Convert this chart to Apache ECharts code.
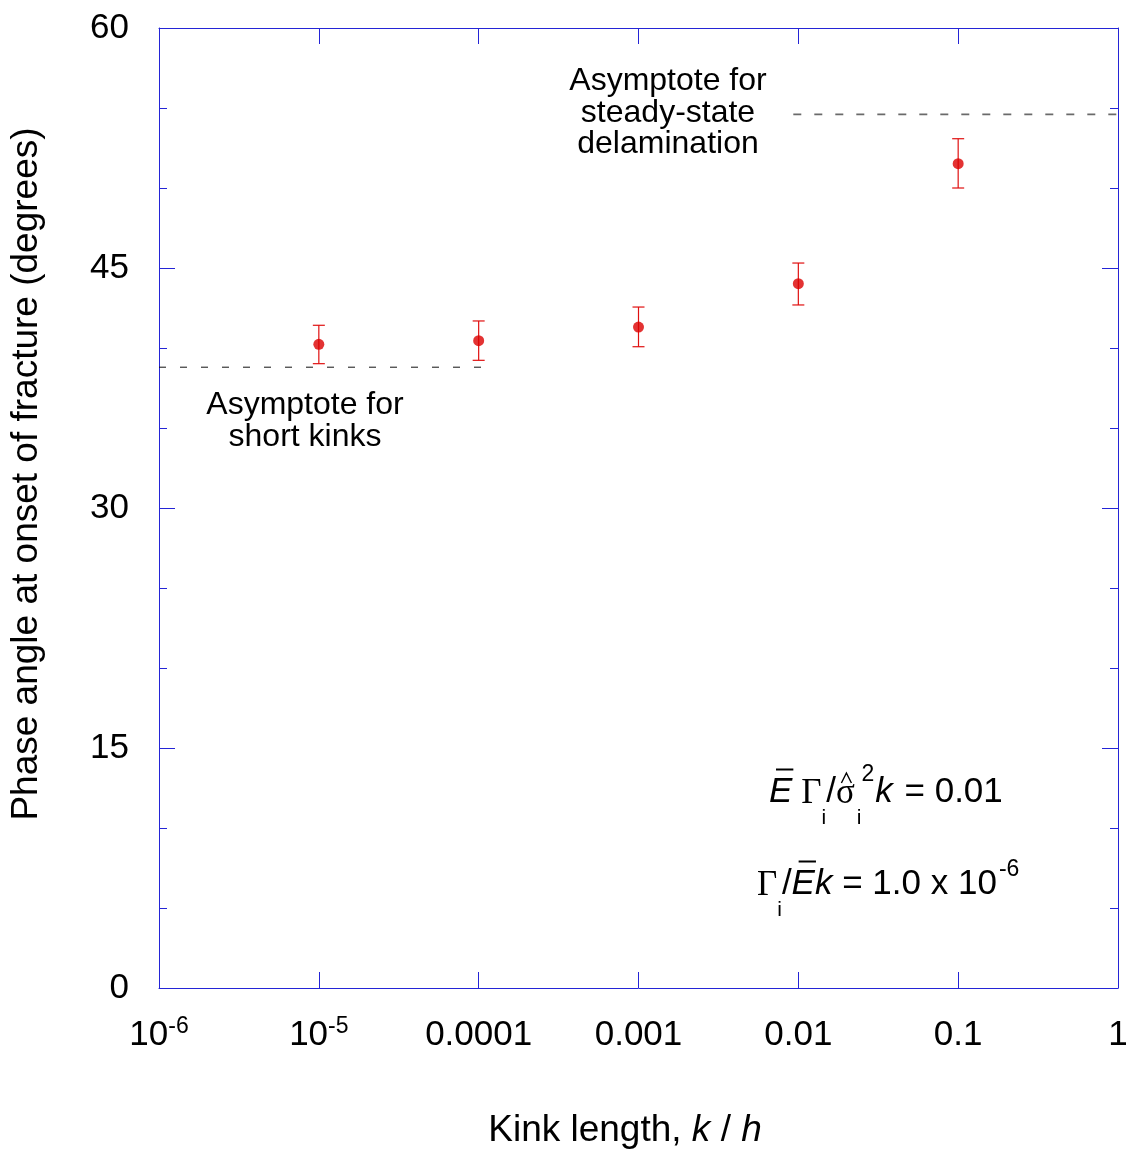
<!DOCTYPE html>
<html><head><meta charset="utf-8">
<script src="https://cdn.jsdelivr.net/npm/echarts@6/dist/echarts.min.js"></script>
<style>html,body{margin:0;padding:0;background:#fff}#c{width:1134px;height:1155px}</style>
</head><body><div id="c"></div>
<script>
// ---- data ----
const kinkLength = [1e-5, 1e-4, 1e-3, 1e-2, 1e-1];
const phaseAngle = [40.23, 40.46, 41.31, 44.02, 51.52];
const errorLow   = [39.02, 39.23, 40.08, 42.69, 50.00];
const errorHigh  = [41.42, 41.69, 42.56, 45.31, 53.08];
const shortKinkAsymX = [1e-6, 1.1e-4];
const shortKinkAsymY = [38.8, 38.8];
const steadyAsymX = [0.0093, 1];
const steadyAsymY = [54.6, 54.6];
const xTickValues = [1e-6, 1e-5, 1e-4, 1e-3, 1e-2, 1e-1, 1];
const xTickLabels = ['10{sup|-6}', '10{sup|-5}', '0.0001', '0.001', '0.01', '0.1', '1'];
const yTickLabels = ['0', '15', '30', '45', '60'];

// ---- chart ----
const FONT = "'Liberation Sans', Arial, Helvetica, sans-serif";
const SERIF = "'Liberation Serif', 'Times New Roman', serif";
const AXIS_BLUE = '#2424d6';
const RED = '#dc0000';

const chart = echarts.init(document.getElementById('c'), null, {renderer: 'canvas'});

function xLabel(val) {
  const i = xTickValues.findIndex(v => Math.abs(Math.log10(v) - Math.log10(val)) < 1e-6);
  return i >= 0 ? xTickLabels[i] : '';
}
function yLabel(val) {
  const i = Math.round(val / 15);
  return yTickLabels[i] !== undefined ? yTickLabels[i] : '';
}

// formula layout helper (text pieces placed on a common baseline)
const measCtx = document.createElement('canvas').getContext('2d');
function fontStr(p) { return (p.italic ? 'italic ' : '') + p.size + 'px ' + p.family; }
function buildFormula(x0, baseline, pieces) {
  const els = [];
  let x = x0;
  pieces.forEach(p => {
    x += p.dx || 0;
    const f = fontStr(p);
    measCtx.font = f;
    const m = measCtx.measureText(p.text);
    const w = m.width;
    const asc = m.fontBoundingBoxAscent, desc = m.fontBoundingBoxDescent;
    const yb = baseline + (p.dy || 0);
    els.push({type: 'text', x: x, y: yb - (asc - desc) / 2, silent: true,
      style: {text: p.text, font: f, fill: '#000', textAlign: 'left', textVerticalAlign: 'middle'}});
    if (p.bar) {
      els.push({type: 'line', silent: true,
        shape: {x1: x + 0.3 * w, y1: yb - 35.5, x2: x + w + 1, y2: yb - 35.5},
        style: {stroke: '#000', lineWidth: 2}});
    }
    if (p.hat) {
      const cx = x + w / 2 + 1;
      els.push({type: 'polyline', silent: true,
        shape: {points: [[cx - 5, yb - 22], [cx, yb - 32], [cx + 5, yb - 22]]},
        style: {stroke: '#000', lineWidth: 1.4, fill: null}});
    }
    x += w;
  });
  return els;
}
const S = {family: FONT, size: 35};
const I = {family: FONT, size: 35, italic: true};
const G = {family: SERIF, size: 35};
const SM = {family: FONT, size: 21};
const SP = {family: FONT, size: 23};

const formula1 = buildFormula(769, 805, [
  Object.assign({text: 'E', bar: true}, I),
  Object.assign({text: '\u0393', dx: 9}, G),
  Object.assign({text: 'i', dy: 21}, SM),
  Object.assign({text: '/'}, S),
  Object.assign({text: '\u03c3', hat: true}, G),
  Object.assign({text: 'i', dy: 21, dx: 2}, SM),
  Object.assign({text: '2', dy: -22}, SP),
  Object.assign({text: 'k', dx: 1}, I),
  Object.assign({text: ' = 0.01', dx: 2}, S)
]);
const formula2 = buildFormula(757, 897, [
  Object.assign({text: '\u0393'}, G),
  Object.assign({text: 'i', dy: 21}, SM),
  Object.assign({text: '/'}, S),
  Object.assign({text: 'E', bar: true}, I),
  Object.assign({text: 'k'}, I),
  Object.assign({text: ' = 1.0 x 10'}, S),
  Object.assign({text: '-6', dy: -19, dx: 2}, SP)
]);

const xAxisCommon = {
  type: 'log', logBase: 10, min: 1e-6, max: 1,
  axisLine: {show: true, onZero: false, lineStyle: {color: AXIS_BLUE, width: 1}},
  axisTick: {show: true, inside: true, length: 16, lineStyle: {color: AXIS_BLUE, width: 1}},
  minorTick: {show: false},
  splitLine: {show: false}
};
const yAxisCommon = {
  type: 'value', min: 0, max: 60, interval: 15,
  axisLine: {show: true, onZero: false, lineStyle: {color: AXIS_BLUE, width: 1}},
  axisTick: {show: true, inside: true, length: 16, lineStyle: {color: AXIS_BLUE, width: 1}},
  minorTick: {show: true, splitNumber: 3, length: 8, lineStyle: {color: AXIS_BLUE, width: 1}},
  splitLine: {show: false}
};

const option = {
  backgroundColor: '#fff',
  animation: false,
  grid: {left: 159, top: 28, right: 16, bottom: 167, containLabel: false},
  xAxis: [
    Object.assign({}, xAxisCommon, {
      position: 'bottom',
      axisLabel: {
        show: true, margin: 27, color: '#000', fontFamily: FONT, fontSize: 35, lineHeight: 40,
        formatter: xLabel,
        rich: {sup: {fontFamily: FONT, fontSize: 23, lineHeight: 22, verticalAlign: 'top', color: '#000'}}
      }
    }),
    Object.assign({}, xAxisCommon, {position: 'top', axisLabel: {show: false}})
  ],
  yAxis: [
    Object.assign({}, yAxisCommon, {
      position: 'left',
      axisLabel: {show: true, margin: 30, color: '#000', fontFamily: FONT, fontSize: 35, formatter: yLabel}
    }),
    Object.assign({}, yAxisCommon, {position: 'right', axisLabel: {show: false}})
  ],
  series: [
    {
      type: 'line', name: 'short', xAxisIndex: 0, yAxisIndex: 0,
      data: shortKinkAsymX.map((x, i) => [x, shortKinkAsymY[i]]),
      symbol: 'none', lineStyle: {color: '#111', width: 1, type: [7, 14]}, z: 2, silent: true
    },
    {
      type: 'line', name: 'steady', xAxisIndex: 0, yAxisIndex: 0,
      data: steadyAsymX.map((x, i) => [x, steadyAsymY[i]]),
      symbol: 'none', lineStyle: {color: '#6a6a6a', width: 1.8, type: [8, 13]}, z: 2, silent: true
    },
    {
      type: 'custom', name: 'err', xAxisIndex: 0, yAxisIndex: 0,
      data: kinkLength.map((x, i) => [x, errorLow[i], errorHigh[i]]),
      encode: {x: 0, y: [1, 2]},
      renderItem: function (params, api) {
        const x = api.value(0);
        const lo = api.coord([x, api.value(1)]);
        const hi = api.coord([x, api.value(2)]);
        const w = 6;
        const st = {stroke: '#e01010', lineWidth: 1.2, fill: null};
        return {type: 'group', children: [
          {type: 'line', shape: {x1: lo[0], y1: lo[1], x2: hi[0], y2: hi[1]}, style: st},
          {type: 'line', shape: {x1: lo[0] - w, y1: lo[1], x2: lo[0] + w, y2: lo[1]}, style: st},
          {type: 'line', shape: {x1: hi[0] - w, y1: hi[1], x2: hi[0] + w, y2: hi[1]}, style: st}
        ]};
      },
      z: 3, silent: true
    },
    {
      type: 'scatter', name: 'phase', xAxisIndex: 0, yAxisIndex: 0,
      data: kinkLength.map((x, i) => [x, phaseAngle[i]]),
      symbol: 'circle', symbolSize: 11, itemStyle: {color: RED}, z: 4, silent: true
    }
  ],
  graphic: [
    {
      type: 'text', x: 27, y: 474, rotation: Math.PI / 2, silent: true,
      style: {text: 'Phase angle at onset of fracture (degrees)', fontFamily: FONT, fontSize: 37,
        fill: '#000', textAlign: 'center', textVerticalAlign: 'middle'}
    },
    {
      type: 'text', x: 625, y: 1131, silent: true,
      style: {text: '{n|Kink length, }{it|k}{n| / }{it|h}', fontFamily: FONT, fontSize: 37, fill: '#000',
        textAlign: 'center', textVerticalAlign: 'middle',
        rich: {n: {fontFamily: FONT, fontSize: 37, color: '#000'},
               it: {fontFamily: FONT, fontSize: 37, fontStyle: 'italic', color: '#000'}}}
    },
    {
      type: 'text', x: 668, y: 113, silent: true,
      style: {text: 'Asymptote for\nsteady-state\ndelamination', fontFamily: FONT, fontSize: 32,
        lineHeight: 31.5, fill: '#000', textAlign: 'center', textVerticalAlign: 'middle'}
    },
    {
      type: 'text', x: 305, y: 421, silent: true,
      style: {text: 'Asymptote for\nshort kinks', fontFamily: FONT, fontSize: 32,
        lineHeight: 31.5, fill: '#000', textAlign: 'center', textVerticalAlign: 'middle'}
    }
  ].concat(formula1, formula2)
};
chart.setOption(option);
</script>
</body></html>
